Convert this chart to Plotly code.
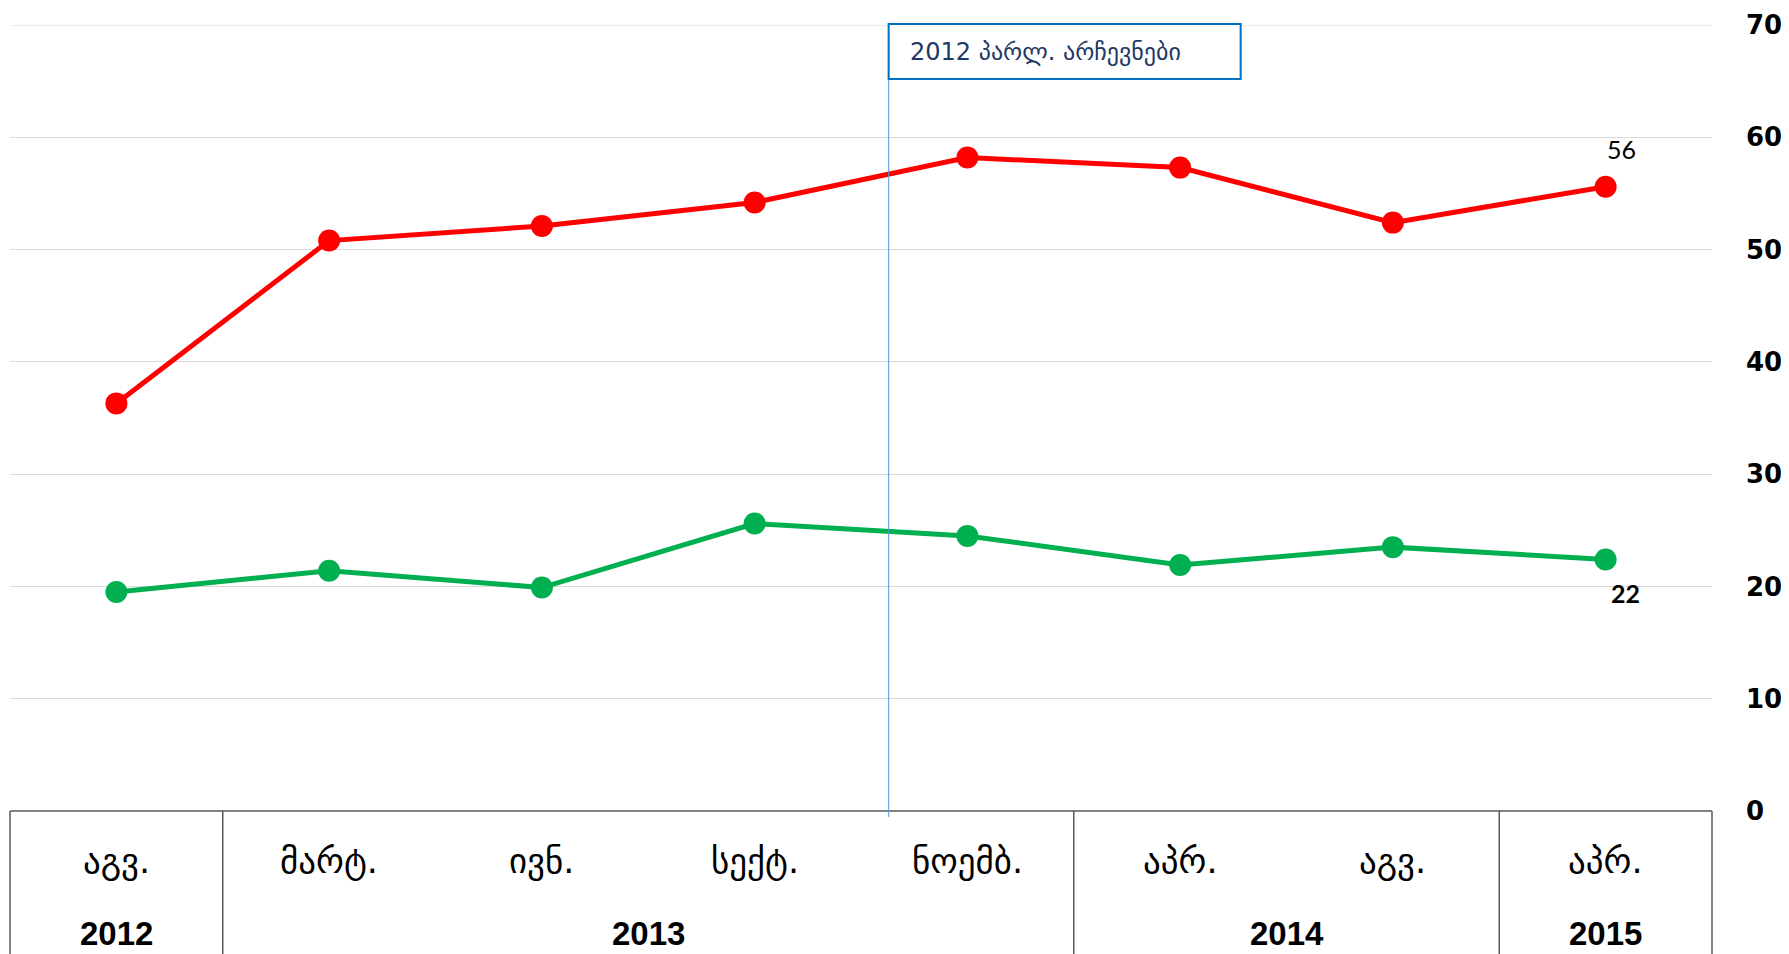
import plotly.graph_objects as go

months = ["აგვ.", "მარტ.", "ივნ.", "სექტ.", "ნოემბ.", "აპრ.", "აგვ.", "აპრ."]
years = ["2012", "2013", "2014", "2015"]
year_spans = [(0, 0), (1, 4), (5, 6), (7, 7)]
red_values = [36.3, 50.8, 52.1, 54.2, 58.2, 57.3, 52.4, 55.6]
green_values = [19.5, 21.4, 19.9, 25.6, 24.5, 21.9, 23.5, 22.4]
event_label = "2012 პარლ. არჩევნები"
event_pos = 3.63
y_ticks = [0, 10, 20, 30, 40, 50, 60, 70]

x_idx = list(range(len(months)))
n = len(months)

# page body has an 8px margin, so the figure is shrunk and offset accordingly
W, H = 1781, 946
ml, mr, mt, mb = 2, 77, 17, 143
ph = H - mt - mb
pw = W - ml - mr


def xd(v):
    # category coordinate -> x domain fraction
    return (v + 0.5) / n


def yp(px_below_axis):
    # pixels below the x axis -> paper y
    return -px_below_axis / ph


def ytop(px_from_top):
    # pixels below the plot-area top -> paper y
    return 1 - px_from_top / ph


fig = go.Figure()
fig.add_trace(go.Scatter(x=x_idx, y=red_values, mode="lines+markers",
                         line=dict(color="#FF0000", width=5),
                         marker=dict(color="#FF0000", size=22),
                         cliponaxis=False, showlegend=False))
fig.add_trace(go.Scatter(x=x_idx, y=green_values, mode="lines+markers",
                         line=dict(color="#00B050", width=5),
                         marker=dict(color="#00B050", size=22),
                         cliponaxis=False, showlegend=False))

shapes = []
line_col = "#595959"
# top gridline (range edge)
shapes.append(dict(type="line", xref="x domain", yref="y", x0=0, x1=1, y0=y_ticks[-1], y1=y_ticks[-1],
                   line=dict(color="#D9D9D9", width=1), layer="below"))
# table frame
shapes.append(dict(type="line", xref="x domain", yref="paper", x0=0, x1=1, y0=0, y1=0,
                   line=dict(color=line_col, width=1.5)))
bounds = sorted(set([year_spans[0][0] - 0.5] + [s[1] + 0.5 for s in year_spans]))
for b in bounds:
    shapes.append(dict(type="line", xref="x domain", yref="paper", x0=xd(b), x1=xd(b),
                       y0=0, y1=yp(160), line=dict(color=line_col, width=1.5)))
# event line
shapes.append(dict(type="line", xref="x domain", yref="paper", x0=xd(event_pos), x1=xd(event_pos),
                   y0=yp(6), y1=ytop(-1), line=dict(color="#5B9BD5", width=1), layer="above"))
# event box
shapes.append(dict(type="rect", xref="x domain", yref="paper", x0=xd(event_pos), x1=xd(event_pos) + 352 / pw,
                   y0=ytop(54), y1=ytop(-1),
                   line=dict(color="#0070C0", width=2), fillcolor="white", layer="above"))

annotations = []
for i, m in enumerate(months):
    annotations.append(dict(x=xd(i), xref="x domain", y=yp(50), yref="paper", text=m, showarrow=False,
                            xanchor="center", yanchor="middle",
                            font=dict(family="DejaVu Sans", size=35, color="#000000")))
for yr, (a, b) in zip(years, year_spans):
    annotations.append(dict(x=xd((a + b) / 2), xref="x domain", y=yp(122), yref="paper", text="<b>" + yr + "</b>",
                            showarrow=False, xanchor="center", yanchor="middle",
                            font=dict(family="Liberation Sans Narrow, Liberation Sans", size=33, color="#000000")))
annotations.append(dict(x=xd(event_pos) + 19 / pw, xref="x domain", y=ytop(27), yref="paper",
                        text=event_label, showarrow=False, xanchor="left", yanchor="middle",
                        font=dict(family="DejaVu Sans", size=24, color="#1F3864")))
annotations.append(dict(x=x_idx[-1], y=red_values[-1], text=str(round(red_values[-1])), showarrow=False,
                        xshift=16, yshift=38, font=dict(family="Lato", size=25, color="#000000")))
annotations.append(dict(x=x_idx[-1], y=green_values[-1], text="<b>" + str(round(green_values[-1])) + "</b>",
                        showarrow=False, xshift=20, yshift=-34, font=dict(family="Lato", size=25, color="#000000")))

fig.update_layout(
    width=W, height=H,
    margin=dict(l=ml, r=mr, t=mt, b=mb, autoexpand=False),
    paper_bgcolor="white", plot_bgcolor="white",
    shapes=shapes, annotations=annotations,
    xaxis=dict(range=[-0.5, n - 0.5], showticklabels=False, showgrid=False, zeroline=False,
               showline=False, ticks="", fixedrange=True),
    yaxis=dict(range=[0, 70], side="right", tickvals=y_ticks, ticktext=[str(v) for v in y_ticks],
               showgrid=True, gridcolor="#D9D9D9", gridwidth=1, zeroline=False, showline=False,
               ticks="", ticklabelstandoff=33,
               tickfont=dict(family="DejaVu Sans", size=26, color="#000000", weight="bold")),
)

fig.write_html("out.html")
